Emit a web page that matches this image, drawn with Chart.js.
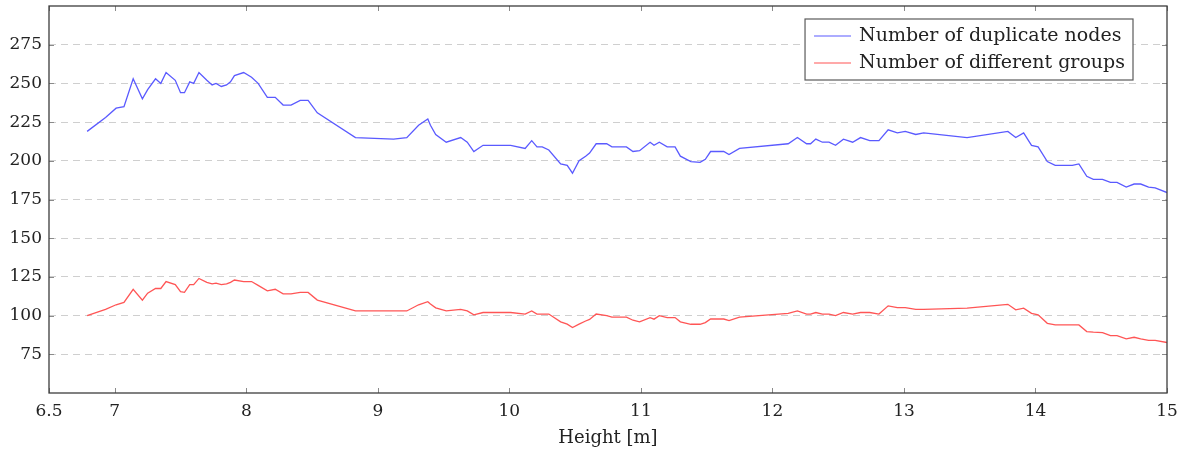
<!DOCTYPE html>
<html>
<head>
<meta charset="utf-8">
<script src="https://cdn.jsdelivr.net/npm/chart.js@4/dist/chart.umd.min.js"></script>
<style>
html, body { margin: 0; padding: 0; background: #fff; }
#caixa { width: 1187px; height: 458px; }
</style>
</head>
<body>
<div id="caixa"><canvas id="grafico"></canvas></div>
<script>
// valores
const heights = [
  6.79, 6.93, 7.01, 7.07, 7.14, 7.21, 7.25, 7.31, 7.35, 7.39, 7.46, 7.50, 7.53, 7.57, 7.60, 7.64,
  7.70, 7.74, 7.77, 7.81, 7.85, 7.88, 7.91, 7.98, 8.04, 8.09, 8.16, 8.22, 8.28, 8.34, 8.41, 8.47,
  8.54, 8.83, 9.12, 9.22, 9.31, 9.38, 9.40, 9.44, 9.52, 9.63, 9.68, 9.73, 9.80, 10.01, 10.12, 10.17,
  10.21, 10.25, 10.30, 10.39, 10.44, 10.48, 10.53, 10.58, 10.61, 10.66, 10.74, 10.78, 10.89, 10.94,
  10.99, 11.07, 11.10, 11.14, 11.20, 11.26, 11.30, 11.38, 11.45, 11.49, 11.53, 11.63, 11.67, 11.75,
  12.12, 12.19, 12.26, 12.29, 12.33, 12.38, 12.43, 12.48, 12.54, 12.61, 12.67, 12.74, 12.81, 12.88,
  12.95, 13.01, 13.09, 13.15, 13.48, 13.79, 13.85, 13.91, 13.97, 14.02, 14.09, 14.15, 14.28, 14.33,
  14.39, 14.44, 14.51, 14.57, 14.62, 14.69, 14.75, 14.80, 14.86, 14.91, 15.00
];

const duplicateNodes = [
  219, 228, 234, 235, 253, 240, 246, 253, 250, 257, 252, 244, 244, 251, 250, 257,
  252, 249, 250, 248, 249, 251, 255, 257, 254, 250, 241, 241, 236, 236, 239, 239,
  231, 215, 214, 215, 223, 227, 223, 217, 212, 215, 212, 206, 210, 210, 208, 213,
  209, 209, 207, 198, 197, 192, 200, 203, 205, 211, 211, 209, 209, 206,
  206.5, 212, 210, 212, 209, 209, 203, 199.5, 199, 201, 206, 206, 204, 208,
  211, 215, 211, 211, 214, 212, 212, 210, 214, 212, 215, 213, 213, 220,
  218, 219, 217, 218, 215, 219, 215, 218, 210, 209, 199.5, 197, 197, 198,
  190, 188, 188, 186, 186, 183, 185, 185, 183, 182.5, 179.5
];

const differentGroups = [
  100, 104, 107, 108.5, 117, 110, 114.5, 117.5, 117.5, 122, 120, 115.5, 115, 120, 120, 124,
  121.5, 120.5, 121, 120, 120.5, 121.5, 123, 122, 122, 119.5, 116, 117, 114, 114, 115, 115,
  110, 103, 103, 103, 107, 109, 107.5, 105, 103, 104, 103, 100.5, 102, 102, 101, 103,
  101, 101, 101, 96, 94.5, 92.3, 94.5, 96.5, 97.5, 101, 100, 99, 99, 97,
  96, 98.7, 97.7, 100, 98.7, 98.7, 96, 94.4, 94.4, 95.5, 97.8, 97.8, 96.8, 99,
  101.5, 103, 101, 101, 102, 101, 101, 100, 102, 101, 102, 102, 101, 106.3,
  105.2, 105.2, 104, 104, 104.8, 107.3, 103.7, 104.8, 101.5, 100.5, 95, 94, 94, 94,
  89.7, 89.3, 89, 87, 87, 85, 86, 85, 84, 84, 82.6
];

const xTicks = [6.5, 7, 8, 9, 10, 11, 12, 13, 14, 15];
const yTicks = [75, 100, 125, 150, 175, 200, 225, 250, 275];
const seriesLabels = ['Number of duplicate nodes', 'Number of different groups'];
const seriesColors = ['rgb(90,90,255)', 'rgb(255,85,85)'];
const xTitle = 'Height [m]';

const fonte = '"DejaVu Serif", "Liberation Serif", serif';
const tamanhoFonte = 17;
const fonteLegenda = 19;

function pontos(valores) {
  return heights.map(function (h, i) { return { x: h, y: valores[i] }; });
}

// moldura, marcas dos ticks e legenda
const molduraPlugin = {
  id: 'moldura',
  afterDatasetsDraw: function (chart) {
    const ctx = chart.ctx;
    const area = chart.chartArea;
    const sx = chart.scales.x;
    const sy = chart.scales.y;
    ctx.save();

    ctx.strokeStyle = '#8a8a8a';
    ctx.lineWidth = 1;
    ctx.beginPath();
    xTicks.forEach(function (v) {
      const px = Math.round(sx.getPixelForValue(v)) + 0.5;
      ctx.moveTo(px, area.bottom);
      ctx.lineTo(px, area.bottom - 5);
      ctx.moveTo(px, area.top);
      ctx.lineTo(px, area.top + 5);
    });
    yTicks.forEach(function (v) {
      const py = Math.round(sy.getPixelForValue(v)) + 0.5;
      ctx.moveTo(area.left, py);
      ctx.lineTo(area.left + 5, py);
      ctx.moveTo(area.right, py);
      ctx.lineTo(area.right - 5, py);
    });
    ctx.stroke();

    ctx.strokeStyle = '#3c3c3c';
    ctx.lineWidth = 1.3;
    ctx.strokeRect(area.left, area.top, area.right - area.left, area.bottom - area.top);

    // legenda
    ctx.font = fonteLegenda + 'px ' + fonte;
    let larguraTexto = 0;
    seriesLabels.forEach(function (t) {
      larguraTexto = Math.max(larguraTexto, ctx.measureText(t).width);
    });
    const direita = area.right - 34;
    const topo = area.top + 13;
    const largura = larguraTexto + 62;
    const esquerda = direita - largura;
    const altura = 61;
    ctx.fillStyle = '#fff';
    ctx.fillRect(esquerda, topo, largura, altura);
    ctx.strokeStyle = '#5a5a5a';
    ctx.lineWidth = 1.2;
    ctx.strokeRect(esquerda, topo, largura, altura);

    ctx.textBaseline = 'middle';
    ctx.textAlign = 'left';
    for (let i = 0; i < seriesLabels.length; i++) {
      const y = topo + 17 + i * 27;
      ctx.strokeStyle = seriesColors[i];
      ctx.lineWidth = 1.2;
      ctx.beginPath();
      ctx.moveTo(esquerda + 9, y);
      ctx.lineTo(esquerda + 46, y);
      ctx.stroke();
      ctx.fillStyle = '#222';
      ctx.fillText(seriesLabels[i], esquerda + 54, y);
    }
    ctx.restore();
  }
};

const ctx = document.getElementById('grafico').getContext('2d');

const grafico = new Chart(ctx, {
  type: 'line',
  data: {
    datasets: [{
      label: seriesLabels[0],
      data: pontos(duplicateNodes),
      borderColor: seriesColors[0],
      borderWidth: 1.3,
      pointRadius: 0,
      tension: 0
    }, {
      label: seriesLabels[1],
      data: pontos(differentGroups),
      borderColor: seriesColors[1],
      borderWidth: 1.3,
      pointRadius: 0,
      tension: 0
    }]
  },
  options: {
    responsive: true,
    maintainAspectRatio: false,
    animation: false,
    devicePixelRatio: 1,
    layout: {
      padding: { left: 0, right: 20, top: 6, bottom: 0 }
    },
    plugins: {
      legend: { display: false },
      tooltip: { enabled: false }
    },
    scales: {
      x: {
        type: 'linear',
        min: 6.5,
        max: 15,
        afterBuildTicks: function (scale) {
          scale.ticks = xTicks.map(function (v) { return { value: v }; });
        },
        afterFit: function (scale) {
          scale.height = 65;
          scale.paddingLeft = 0;
          scale.paddingRight = 0;
        },
        grid: { display: false },
        border: { display: false },
        ticks: {
          autoSkip: false,
          maxRotation: 0,
          padding: 0,
          color: '#222',
          font: { family: fonte, size: tamanhoFonte },
          callback: function (v) { return String(v); }
        },
        title: {
          display: true,
          text: xTitle,
          color: '#222',
          font: { family: fonte, size: tamanhoFonte + 1 },
          padding: { top: 4, bottom: 9 }
        }
      },
      y: {
        min: 50,
        max: 300,
        afterBuildTicks: function (scale) {
          scale.ticks = yTicks.map(function (v) { return { value: v }; });
        },
        afterFit: function (scale) {
          scale.width = 49;
          scale.paddingTop = 0;
          scale.paddingBottom = 0;
        },
        grid: {
          color: '#cfcfcf',
          lineWidth: 1,
          drawTicks: false
        },
        border: { display: false, dash: [7, 5] },
        ticks: {
          padding: 7,
          color: '#222',
          font: { family: fonte, size: tamanhoFonte }
        }
      }
    }
  },
  plugins: [molduraPlugin]
});
</script>
</body>
</html>
